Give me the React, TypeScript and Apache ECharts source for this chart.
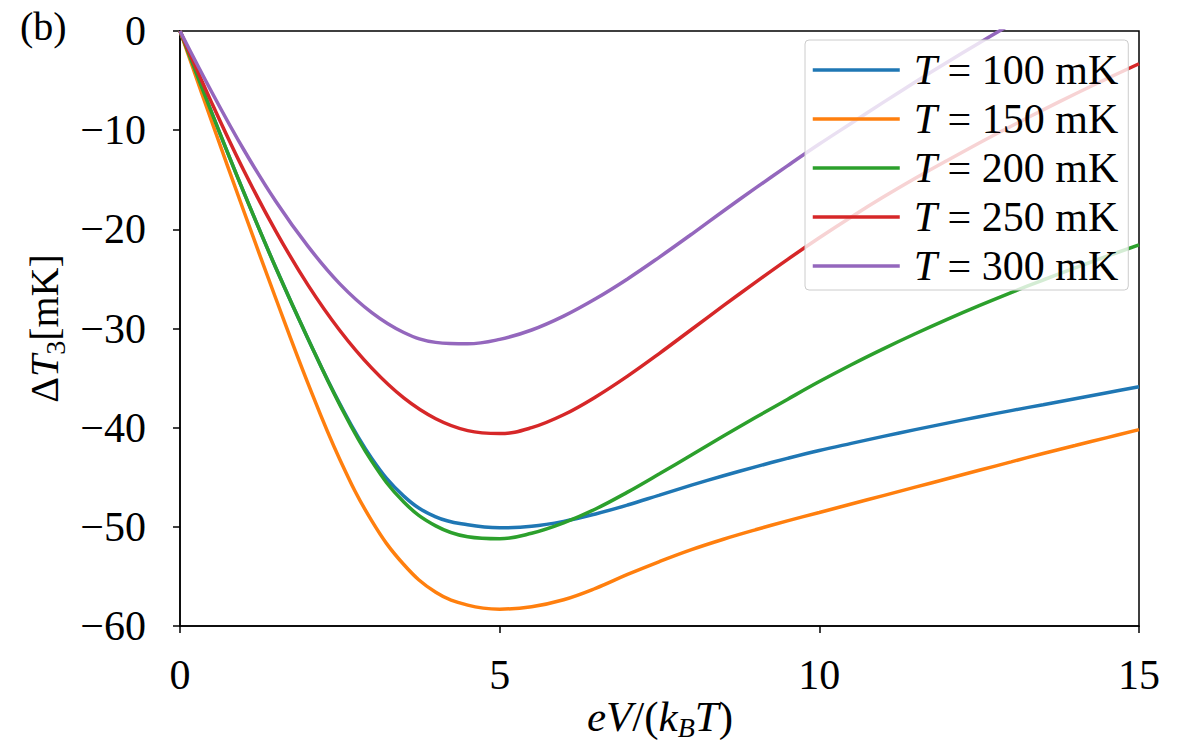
import React, { useEffect, useRef } from 'react';
import * as echarts from 'echarts';

// Bias voltage in units of k_B T
const bias = [
  0, 0.5, 1, 1.5, 2, 2.5, 3, 3.5, 4, 4.5, 5, 5.5, 6, 6.5, 7, 7.5,
  8, 8.5, 9, 9.5, 10, 10.5, 11, 11.5, 12, 12.5, 13, 13.5, 14, 14.5, 15,
];

// Temperature change of reservoir 3 (mK) for each bath temperature
const dT100 = [
  0, -8.3, -16.3, -23.9, -31.0, -37.6, -43.1, -46.9, -49.0, -49.8, -50.1, -49.95,
  -49.45, -48.7, -47.8, -46.8, -45.8, -44.85, -43.95, -43.1, -42.3, -41.58, -40.88,
  -40.2, -39.54, -38.9, -38.28, -37.68, -37.08, -36.48, -35.88,
];
const dT150 = [
  0, -9.2, -18.2, -27.0, -35.5, -43.2, -49.4, -53.8, -56.6, -57.9, -58.3, -58.05,
  -57.35, -56.2, -54.8, -53.5, -52.3, -51.25, -50.3, -49.4, -48.55, -47.7, -46.85,
  -46.0, -45.15, -44.3, -43.45, -42.6, -41.8, -41.0, -40.2,
];
const dT200 = [
  0, -8.3, -16.3, -23.9, -31.0, -37.7, -43.4, -47.5, -49.9, -51.0, -51.2, -50.65,
  -49.6, -48.2, -46.5, -44.65, -42.75, -40.85, -38.98, -37.15, -35.35, -33.65,
  -32.05, -30.53, -29.08, -27.7, -26.38, -25.11, -23.89, -22.71, -21.56,
];
const dT250 = [
  0, -7.3, -14.1, -20.2, -25.6, -30.2, -34.0, -37.0, -39.1, -40.3, -40.6, -40.0,
  -38.7, -36.9, -34.8, -32.5, -30.1, -27.7, -25.35, -23.05, -20.85, -18.75, -16.75,
  -14.85, -13.05, -11.3, -9.6, -7.95, -6.35, -4.8, -3.3,
];
const dT300 = [
  0, -6.2, -12.0, -17.2, -21.7, -25.5, -28.4, -30.4, -31.4, -31.55, -31.1, -30.15,
  -28.75, -27.0, -25.0, -22.8, -20.5, -18.15, -15.85, -13.6, -11.4, -9.3, -7.2,
  -5.15, -3.15, -1.2, 0.7,
];

const seriesNames = ['T = 100 mK', 'T = 150 mK', 'T = 200 mK', 'T = 250 mK', 'T = 300 mK'];
const seriesValues = [dT100, dT150, dT200, dT250, dT300];
const colors = ['#1f77b4', '#ff7f0e', '#2ca02c', '#d62728', '#9467bd'];

const xTicks = { min: 0, max: 15, interval: 5 };
const yTicks = { min: -60, max: 0, interval: 10 };

const FONT = 'Liberation Serif';

const minus = (v: number) => (v < 0 ? '\u2212' + Math.abs(v) : String(v));

export default function App() {
  const ref = useRef<HTMLDivElement>(null);

  useEffect(() => {
    if (!ref.current) return;
    const chart = echarts.init(ref.current, undefined, { renderer: 'svg' });

    const series = seriesNames.map((name, k) => ({
      name,
      type: 'line',
      data: seriesValues[k].map((y, i) => [bias[i], y]),
      symbol: 'none',
      smooth: 0.4,
      clip: true,
      lineStyle: { color: colors[k], width: 3.5 },
      itemStyle: { color: colors[k] },
      z: 2,
    }));

    const nameRich = (size: number) => ({
      n: { fontFamily: FONT, fontSize: size, color: '#000', lineHeight: 50 },
      i: { fontFamily: FONT, fontSize: size, fontStyle: 'italic', color: '#000', lineHeight: 50 },
      s: { fontFamily: FONT, fontSize: 28, color: '#000', verticalAlign: 'bottom' },
      si: { fontFamily: FONT, fontSize: 28, fontStyle: 'italic', color: '#000', verticalAlign: 'bottom' },
    });

    chart.setOption({
      animation: false,
      backgroundColor: '#ffffff',
      grid: {
        left: 180,
        right: 61,
        top: 31,
        bottom: 120,
        containLabel: false,
        outerBoundsMode: 'none',
        show: true,
        borderColor: '#000',
        borderWidth: 1.5,
        backgroundColor: 'transparent',
      },
      xAxis: {
        type: 'value',
        min: xTicks.min,
        max: xTicks.max,
        interval: xTicks.interval,
        axisLine: { show: true, onZero: false, lineStyle: { color: '#000', width: 1.5 } },
        axisTick: { show: true, inside: false, length: 7, lineStyle: { color: '#000', width: 1.5 } },
        axisLabel: {
          fontFamily: FONT,
          fontSize: 42,
          color: '#000',
          margin: 28,
          formatter: (v: number) => minus(v),
        },
        splitLine: { show: false },
      },
      yAxis: {
        type: 'value',
        min: yTicks.min,
        max: yTicks.max,
        interval: yTicks.interval,
        name: '{n|\u0394}{i|T}{s|3}{n|[mK]}',
        nameLocation: 'middle',
        nameGap: 110,
        nameTextStyle: { rich: nameRich(40) },
        axisLine: { show: true, onZero: false, lineStyle: { color: '#000', width: 1.5 } },
        axisTick: { show: true, inside: false, length: 7, lineStyle: { color: '#000', width: 1.5 } },
        axisLabel: {
          fontFamily: FONT,
          fontSize: 42,
          color: '#000',
          margin: 34,
          padding: [9, 0, 0, 0],
          formatter: (v: number) => minus(v),
        },
        splitLine: { show: false },
      },
      legend: {
        orient: 'vertical',
        left: 805,
        top: 40,
        padding: [9, 10, 3, 6],
        itemWidth: 87,
        itemHeight: 20,
        itemGap: 7,
        backgroundColor: 'rgba(255,255,255,0.8)',
        borderColor: '#cccccc',
        borderWidth: 1,
        borderRadius: 4,
        data: seriesNames,
        itemStyle: { color: 'transparent', borderColor: 'transparent', borderWidth: 0 },
        lineStyle: { width: 3.5 },
        formatter: (name: string) => '{i|T} = ' + name.slice(4),
        textStyle: {
          fontFamily: FONT,
          fontSize: 42,
          color: '#000',
          lineHeight: 40,
          padding: [0, 0, 0, 9],
          rich: {
            i: { fontFamily: FONT, fontSize: 42, fontStyle: 'italic', color: '#000' },
          },
        },
      },
      graphic: [
        {
          type: 'text',
          left: 20,
          top: 6,
          style: { text: '(b)', font: '40px ' + FONT, fill: '#000' },
        },
        {
          // x-axis title
          type: 'text',
          x: 660,
          y: 716,
          style: {
            text: '{i|eV}{n|/(}{i|k}{si|B}{i|T}{n|)}',
            align: 'center',
            verticalAlign: 'middle',
            rich: nameRich(43),
          },
        },
      ],
      series,
    });

    return () => chart.dispose();
  }, []);

  return (
    <div
      ref={ref}
      style={{ position: 'absolute', left: 0, top: 0, width: 1200, height: 746 }}
    />
  );
}
